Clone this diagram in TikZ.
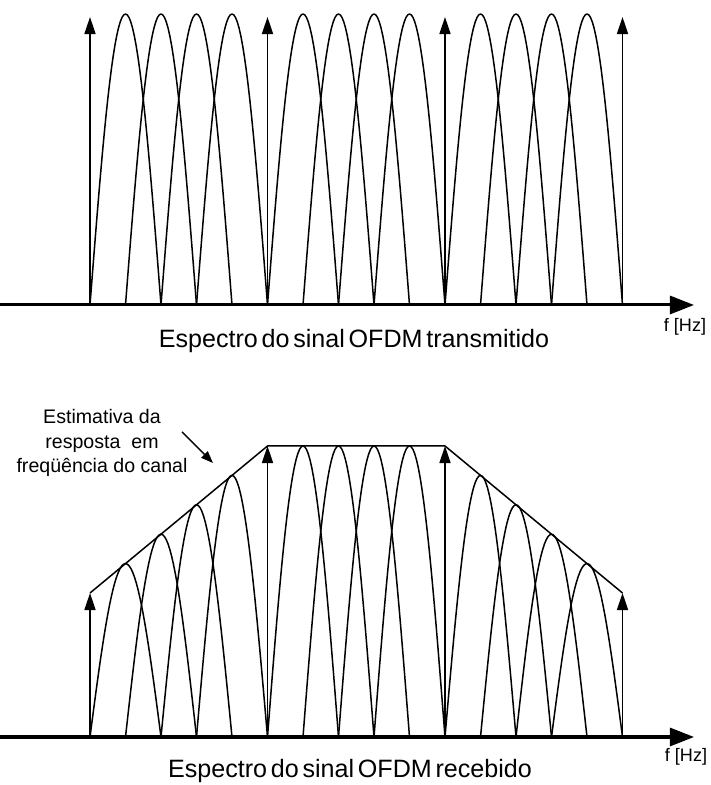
\documentclass[tikz,border=0pt]{standalone}
\usepackage{fontspec}
\setmainfont{Liberation Sans}
\usetikzlibrary{arrows.meta}

\newcommand\capfont{\fontsize{25}{28}\selectfont\spaceskip=0.15em\relax}

\tikzset{
  lobe/.style={line width=1.5pt, line join=round},
  pilot/.style={line width=1.5pt, -{Triangle[length=17pt,width=11pt]}},
  freqaxis/.style={line width=3pt, -{Triangle[length=24pt,width=18pt]}},
  caption/.style={anchor=base, font=\capfont},
  hzlabel/.style={font=\fontsize{18}{20}\selectfont},
  note/.style={font=\fontsize{19.5}{24}\selectfont, align=center},
}

\begin{document}
\begin{tikzpicture}[x=0.35cm, y=0.35cm]
  \useasboundingbox (0,0) rectangle (71,78.5);

  % espectro transmitido
  \begin{scope}[shift={(0,48)}]
    \foreach \k in {1,2,3,4,6,7,8,9,11,12,13,14}{
      \draw[lobe] plot[domain=-90:90, samples=41] ({9+3.55*\k+3.55*\x/90},{29.1*cos(\x)});
    }
    \foreach \k in {0,5,10,15}{
      \draw[pilot] (9+3.55*\k,0) -- (9+3.55*\k,28.8);
    }
    \draw[freqaxis] (0,0) -- (69.4,0);
    \node[caption] (captx) at (35.4,-4.3) {Espectro do sinal OFDM transmitido};
    \node[hzlabel] (hztx) at (68.5,-2.2) {f [Hz]};
  \end{scope}

  % espectro recebido
  \begin{scope}[shift={(0,4.8)}]
    \foreach \k in {1,2,3,4,6,7,8,9,11,12,13,14}{
      \pgfmathsetmacro\h{min(29.1,14.4+2.94*min(\k,15-\k))}
      \draw[lobe] plot[domain=-90:90, samples=41] ({9+3.55*\k+3.55*\x/90},{\h*cos(\x)});
    }
    \foreach \k in {0,5,10,15}{
      \pgfmathsetmacro\h{min(29.1,14.4+2.94*min(\k,15-\k))}
      \draw[pilot] (9+3.55*\k,0) -- (9+3.55*\k,\h);
    }
    \draw[lobe] (9,14.4) -- (26.75,29.1) -- (44.5,29.1) -- (62.25,14.4);
    \draw[freqaxis] (0,0) -- (69.4,0);
    \node[caption] (caprx) at (35.0,-4.1) {Espectro do sinal OFDM recebido};
    \node[hzlabel] (hzrx) at (68.6,-2.0) {f [Hz]};

    % estimativa do canal
    \node[note] (est) at (10.2,29.4) {Estimativa da\\resposta~ em\\freqüência do canal};
    \coordinate (estfrom) at (18.2,30.5);
    \coordinate (estto) at (21.3,27.4);
    \draw[line width=1.4pt, -{Triangle[length=12pt,width=9pt]}] (estfrom) -- (estto);
  \end{scope}
\end{tikzpicture}
\end{document}
